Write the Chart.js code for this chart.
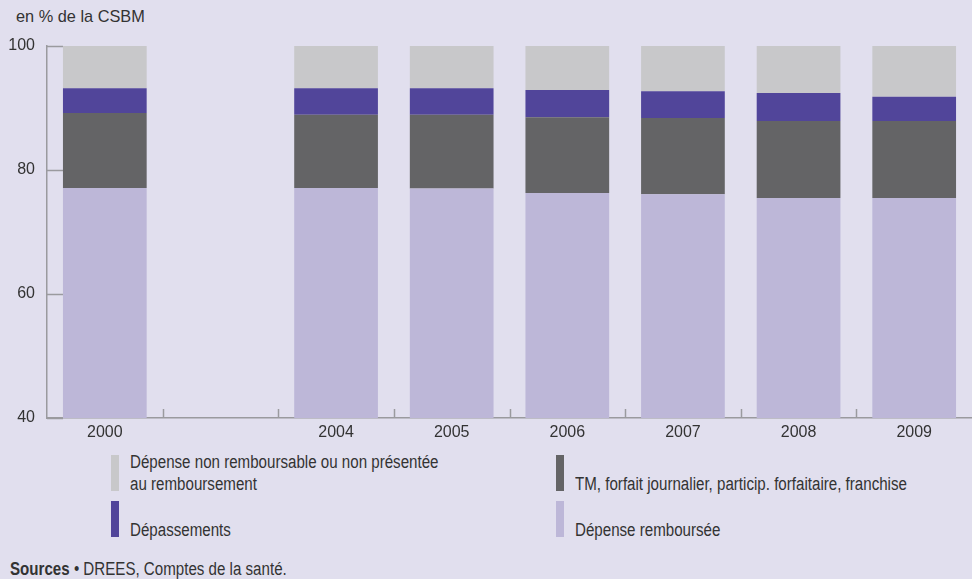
<!DOCTYPE html>
<html lang="fr">
<head>
<meta charset="utf-8">
<script src="https://cdn.jsdelivr.net/npm/chart.js@4.4.1/dist/chart.umd.min.js"></script>
<style>
  body { margin: 0; background: #e1dfee; font-family: 'Liberation Sans', Arial, sans-serif; color: #333; }
  #wrap { position: relative; width: 972px; height: 579px; overflow: hidden; }
  #chartBox { position: absolute; left: 0; top: 0; width: 972px; height: 448px; }
  #unit { position: absolute; left: 16px; top: 7px; font-size: 17px; transform: scaleX(0.96); transform-origin: left top; }
  .leg { position: absolute; width: 8px; height: 36px; }
  .leg .sw { position: absolute; left: 0; top: 0; width: 8px; height: 36px; }
  .leg .tx { position: absolute; left: 19px; bottom: -4px; font-size: 18px; line-height: 22px; white-space: nowrap;
             transform: scaleX(0.84); transform-origin: left bottom; }
  #sources { position: absolute; left: 10px; top: 559px; font-size: 18px; white-space: nowrap;
             transform: scaleX(0.84); transform-origin: left top; }
</style>
</head>
<body>
<div id="wrap">
  <div id="unit">en % de la CSBM</div>
  <div id="chartBox"><canvas id="stackChart"></canvas></div>
  <div id="legend"></div>
  <div id="sources"><b>Sources</b> • DREES, Comptes de la santé.</div>
</div>
<script>
// categories (one empty slot between 2000 and 2004)
const years = ['2000', '', '2004', '2005', '2006', '2007', '2008', '2009'];
const yTicks = [40, 60, 80, 100];

// series, bottom to top, in % of CSBM
const depRemboursee  = [77.1, null, 77.1, 77.0, 76.3, 76.1, 75.5, 75.5];
const ticketModerateur = [12.1, null, 11.8, 11.9, 12.2, 12.3, 12.4, 12.4];
const depassements   = [4.0, null, 4.3, 4.3, 4.4, 4.3, 4.5, 3.9];
const nonRemboursable = [6.8, null, 6.8, 6.8, 7.1, 7.3, 7.6, 8.2];

const seriesNames = [
    'Dépense remboursée',
    'TM, forfait journalier, particip. forfaitaire, franchise',
    'Dépassements',
    'Dépense non remboursable ou non présentée<br>au remboursement'
];
const seriesColors = ['#bdb7d8', '#646466', '#51459a', '#c8c8ca'];
const seriesData = [depRemboursee, ticketModerateur, depassements, nonRemboursable];

const FONT = "'Liberation Sans', Arial, sans-serif";
const AXIS = '#9a9a9e';

// inward tick marks on both axes
const innerTicks = {
    id: 'innerTicks',
    beforeDatasetsDraw(chart) {
        const { ctx, chartArea, scales: { x, y } } = chart;
        ctx.save();
        ctx.strokeStyle = AXIS;
        ctx.lineWidth = 1.5;
        ctx.beginPath();
        yTicks.forEach(v => {
            const py = Math.round(y.getPixelForValue(v)) + 0.5;
            ctx.moveTo(chartArea.left, py);
            ctx.lineTo(chartArea.left + 16, py);
        });
        for (let i = 1; i < years.length; i++) {
            const px = Math.round((x.getPixelForValue(i - 1) + x.getPixelForValue(i)) / 2) + 0.5;
            ctx.moveTo(px, chartArea.bottom);
            ctx.lineTo(px, chartArea.bottom - 9);
        }
        ctx.stroke();
        ctx.restore();
    }
};

new Chart(document.getElementById('stackChart'), {
    type: 'bar',
    data: {
        labels: years,
        datasets: seriesData.map((d, i) => ({
            label: seriesNames[i],
            data: d,
            backgroundColor: seriesColors[i],
            categoryPercentage: 1,
            barPercentage: 0.724
        }))
    },
    options: {
        responsive: true,
        maintainAspectRatio: false,
        animation: false,
        layout: { padding: { top: 46, left: 0, right: 0, bottom: 0 } },
        plugins: { legend: { display: false }, tooltip: { enabled: false } },
        scales: {
            x: {
                stacked: true,
                grid: { display: true, drawOnChartArea: false, drawTicks: false, offset: true },
                border: { display: true, color: AXIS, width: 1.5 },
                ticks: { color: '#333', font: { family: FONT, size: 16 }, padding: 5, maxRotation: 0 },
                afterFit(s) { s.height = 30; }
            },
            y: {
                stacked: true,
                min: 40,
                max: 100,
                afterBuildTicks(s) { s.ticks = yTicks.map(v => ({ value: v })); },
                grid: { display: true, drawOnChartArea: false, drawTicks: false },
                border: { display: true, color: AXIS, width: 1.5 },
                ticks: { color: '#333', font: { family: FONT, size: 16 }, padding: 12 },
                afterFit(s) { s.width = 47; }
            }
        }
    },
    plugins: [innerTicks]
});

// legend, two columns
const legendSlots = [
    { s: 3, left: 111, top: 455 },
    { s: 1, left: 556, top: 455 },
    { s: 2, left: 111, top: 501 },
    { s: 0, left: 556, top: 501 }
];
document.getElementById('legend').innerHTML = legendSlots.map(p =>
    `<div class="leg" style="left:${p.left}px;top:${p.top}px">` +
    `<div class="sw" style="background:${seriesColors[p.s]}"></div>` +
    `<div class="tx">${seriesNames[p.s]}</div></div>`
).join('');
</script>
</body>
</html>
